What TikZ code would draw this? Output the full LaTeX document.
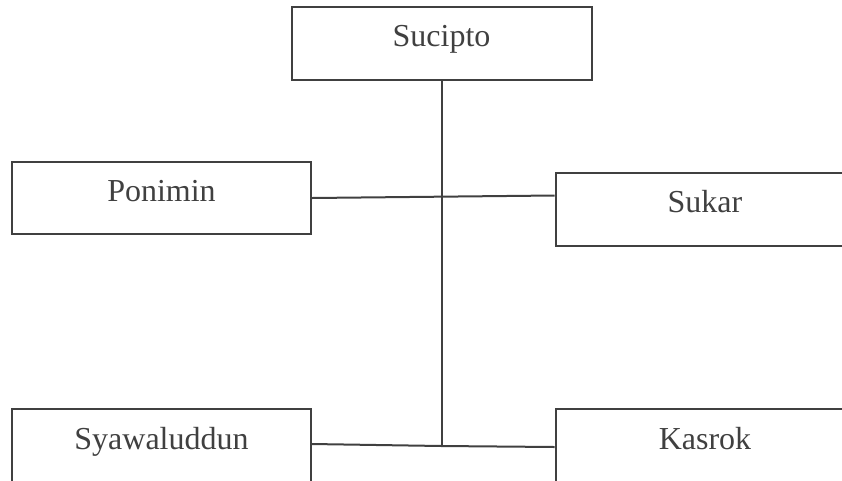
\documentclass[tikz,border=0pt]{standalone}
\usepackage{fontspec}
\setmainfont{Liberation Serif}
\usepackage{tikz}
\usetikzlibrary{positioning}
\definecolor{garis}{HTML}{404040}

\begin{document}
\begin{tikzpicture}[x=1pt, y=-1pt,
    kotak/.style={draw=garis, line width=2pt, rectangle, inner sep=0pt,
        minimum width=299pt, minimum height=72pt,
        text height=22pt, text depth=16pt, text=garis,
        font=\fontsize{32}{38}\selectfont},
    hubung/.style={draw=garis, line width=2pt}]

    % Batas gambar
    \useasboundingbox (0,0) rectangle (842,480);
    \clip (0,0) rectangle (842,480);

    % Kotak
    \node[kotak, minimum width=300pt, minimum height=73pt] (sucipto) at (441.5, 43.5) {Sucipto};
    \node[kotak] (ponimin) at (161.5, 198) {Ponimin};
    \node[kotak, minimum height=73pt] (sukar) at (705, 209.5) {Sukar};
    \node[kotak, minimum height=74pt] (syawal) at (161.5, 446) {Syawaluddun};
    \node[kotak, minimum height=74pt] (kasrok) at (705, 446) {Kasrok};

    % Garis
    \coordinate (bawah) at (441.5, 446);
    \draw[hubung] (sucipto.south) -- (bawah);
    \draw[hubung] (ponimin.east) -- ([yshift=14pt]sukar.west);
    \draw[hubung] ([yshift=2pt]syawal.east) -- (bawah) -- ([yshift=-1pt]kasrok.west);

\end{tikzpicture}
\end{document}
